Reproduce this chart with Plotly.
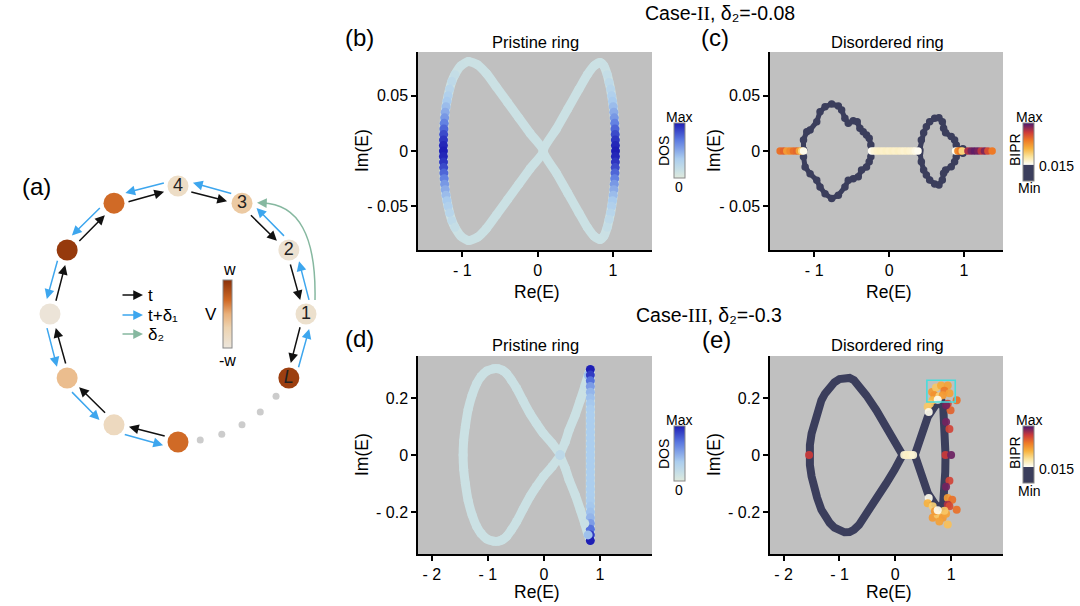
import numpy as np
import plotly.graph_objects as go
from plotly.colors import sample_colorscale

W, H = 1080, 606
FONT = "Arial, 'Liberation Sans', Helvetica, sans-serif"
GRAY = "#c0c0c0"
NAVY = "#3b3e5c"

# ---------------- data ----------------
# (b) Pristine ring, Case-II : (Re E, Im E, DOS)
B_LEFT_LOBE = [
    (0.075, 0.000, 0.12), (-0.10, 0.016, 0.12), (-0.25, 0.030, 0.12), (-0.40, 0.044, 0.12),
    (-0.55, 0.058, 0.12), (-0.68, 0.070, 0.12), (-0.80, 0.078, 0.12), (-0.92, 0.081, 0.12),
    (-1.02, 0.077, 0.13), (-1.10, 0.069, 0.17), (-1.14, 0.063, 0.21), (-1.17, 0.056, 0.26),
    (-1.19, 0.050, 0.31), (-1.205, 0.045, 0.36), (-1.218, 0.040, 0.42), (-1.228, 0.035, 0.49),
    (-1.236, 0.030, 0.57), (-1.242, 0.025, 0.66), (-1.246, 0.020, 0.76), (-1.249, 0.015, 0.85),
    (-1.251, 0.010, 0.92), (-1.252, 0.005, 0.97), (-1.252, 0.000, 1.00), (-1.252, -0.005, 0.97),
    (-1.251, -0.010, 0.92), (-1.249, -0.015, 0.85), (-1.246, -0.020, 0.76), (-1.242, -0.025, 0.66),
    (-1.236, -0.030, 0.57), (-1.228, -0.035, 0.49), (-1.218, -0.040, 0.42), (-1.205, -0.045, 0.36),
    (-1.19, -0.050, 0.31), (-1.17, -0.056, 0.26), (-1.14, -0.063, 0.21), (-1.10, -0.069, 0.17),
    (-1.02, -0.077, 0.13), (-0.92, -0.081, 0.12), (-0.80, -0.078, 0.12), (-0.68, -0.070, 0.12),
    (-0.55, -0.058, 0.12), (-0.40, -0.044, 0.12), (-0.25, -0.030, 0.12), (-0.10, -0.016, 0.12),
    (0.075, 0.000, 0.12),
]
B_RIGHT_LOBE = [
    (0.075, 0.000, 0.12),
    (0.25, 0.020, 0.12), (0.40, 0.038, 0.12), (0.55, 0.056, 0.12), (0.66, 0.069, 0.12),
    (0.75, 0.077, 0.12), (0.83, 0.080, 0.12), (0.88, 0.077, 0.13), (0.925, 0.069, 0.17),
    (0.95, 0.062, 0.21), (0.97, 0.056, 0.26), (0.984, 0.050, 0.31), (0.995, 0.045, 0.36),
    (1.005, 0.040, 0.42), (1.013, 0.035, 0.49), (1.019, 0.030, 0.57), (1.024, 0.025, 0.66),
    (1.028, 0.020, 0.76), (1.031, 0.015, 0.85), (1.033, 0.010, 0.92), (1.034, 0.005, 0.97),
    (1.035, 0.000, 1.00), (1.034, -0.005, 0.97), (1.033, -0.010, 0.92), (1.031, -0.015, 0.85),
    (1.028, -0.020, 0.76), (1.024, -0.025, 0.66), (1.019, -0.030, 0.57), (1.013, -0.035, 0.49),
    (1.005, -0.040, 0.42), (0.995, -0.045, 0.36), (0.984, -0.050, 0.31), (0.97, -0.056, 0.26),
    (0.95, -0.062, 0.21), (0.925, -0.069, 0.17), (0.88, -0.077, 0.13), (0.83, -0.080, 0.12),
    (0.75, -0.077, 0.12), (0.66, -0.069, 0.12), (0.55, -0.056, 0.12), (0.40, -0.038, 0.12),
    (0.25, -0.020, 0.12), (0.075, 0.000, 0.12),
]

# (c) Disordered ring, Case-II
C_LEFT_BLOB = [
    (-1.143, 0.001), (-1.143, 0.0099), (-1.099, 0.0175), (-1.055, 0.019), (-0.966, 0.0265),
    (-0.922, 0.0355), (-0.855, 0.040), (-0.767, 0.0425), (-0.678, 0.0407), (-0.634, 0.0371),
    (-0.590, 0.0295), (-0.545, 0.025), (-0.479, 0.0274), (-0.426, 0.0265), (-0.390, 0.0205),
    (-0.346, 0.0175), (-0.302, 0.0145), (-0.266, 0.0115), (-0.244, 0.0055), (-0.244, -0.0051),
    (-0.266, -0.0097), (-0.302, -0.0145), (-0.368, -0.0172), (-0.412, -0.0232), (-0.479, -0.025),
    (-0.545, -0.0265), (-0.590, -0.0325), (-0.678, -0.040), (-0.767, -0.043), (-0.855, -0.0386),
    (-0.922, -0.0325), (-0.966, -0.0265), (-1.055, -0.0205), (-1.121, -0.0145), (-1.143, -0.0051),
]
C_RIGHT_BLOB = [
    (0.408, 0.001), (0.430, 0.0099), (0.461, 0.0166), (0.497, 0.022), (0.541, 0.0265),
    (0.608, 0.0295), (0.665, 0.0301), (0.710, 0.0265), (0.727, 0.0205), (0.754, 0.0166),
    (0.829, 0.0130), (0.874, 0.0099), (0.896, 0.0055), (0.905, 0.0015), (0.985, 0.002),
    (0.985, -0.002), (0.905, -0.0015), (0.896, -0.0051), (0.874, -0.0097), (0.829, -0.0142),
    (0.754, -0.0172), (0.727, -0.0202), (0.710, -0.0262), (0.665, -0.0307), (0.608, -0.0298),
    (0.541, -0.0262), (0.497, -0.0217), (0.461, -0.0172), (0.430, -0.0097), (0.408, -0.0015),
]
# real-axis states: (Re E, BIPR level)
C_AXIS_STATES = [
    (-1.455, 0.72), (-1.41, 0.75), (-1.366, 0.62), (-1.322, 0.66), (-1.277, 0.72), (-1.233, 0.74),
    (-1.198, 0.60), (-1.167, 0.46), (-1.143, 0.30),
    (-0.234, 0.29), (-0.20, 0.33), (-0.16, 0.35), (-0.12, 0.36), (-0.08, 0.35), (-0.04, 0.36),
    (0.00, 0.35), (0.04, 0.36), (0.08, 0.35), (0.12, 0.36), (0.16, 0.35), (0.20, 0.34),
    (0.24, 0.35), (0.28, 0.34), (0.32, 0.33), (0.35, 0.31), (0.386, 0.29),
    (0.887, 0.30), (0.918, 0.65), (0.949, 0.70), (0.976, 0.47), (1.052, 0.88), (1.096, 0.95),
    (1.140, 0.97), (1.185, 0.95), (1.229, 0.86), (1.273, 0.93), (1.318, 0.80), (1.375, 0.70),
]

# (d) Pristine ring, Case-III : (Re E, Im E, DOS)
D_LEFT_LOOP = [
    (0.29, 0.000, 0.22), (0.15, 0.040, 0.12), (-0.01, 0.076, 0.12), (-0.13, 0.110, 0.12),
    (-0.245, 0.145, 0.12), (-0.37, 0.190, 0.12), (-0.484, 0.233, 0.12), (-0.58, 0.263, 0.12),
    (-0.663, 0.285, 0.12), (-0.74, 0.297, 0.12), (-0.81, 0.302, 0.12), (-0.90, 0.302, 0.12),
    (-1.02, 0.294, 0.12), (-1.12, 0.275, 0.12), (-1.20, 0.250, 0.12), (-1.28, 0.210, 0.12),
    (-1.35, 0.160, 0.12), (-1.40, 0.100, 0.12), (-1.43, 0.050, 0.12), (-1.44, 0.000, 0.12),
    (-1.43, -0.050, 0.12), (-1.40, -0.100, 0.12), (-1.35, -0.160, 0.12), (-1.28, -0.210, 0.12),
    (-1.20, -0.250, 0.12), (-1.12, -0.275, 0.12), (-1.02, -0.294, 0.12), (-0.90, -0.302, 0.12),
    (-0.81, -0.302, 0.12), (-0.74, -0.297, 0.12), (-0.663, -0.285, 0.12), (-0.58, -0.263, 0.12),
    (-0.484, -0.233, 0.12), (-0.37, -0.190, 0.12), (-0.245, -0.145, 0.12), (-0.13, -0.110, 0.12),
    (-0.01, -0.076, 0.12), (0.15, -0.040, 0.12), (0.29, 0.000, 0.22),
]
D_RIGHT_LOOP = [
    (0.29, 0.000, 0.22),
    (0.38, 0.045, 0.12), (0.45, 0.087, 0.12), (0.56, 0.140, 0.12), (0.65, 0.192, 0.12),
    (0.73, 0.240, 0.14), (0.79, 0.280, 0.40),
    (0.83, 0.30, 1.00), (0.83, 0.28, 0.90), (0.83, 0.26, 0.72), (0.83, 0.24, 0.55),
    (0.83, 0.22, 0.45), (0.83, 0.20, 0.40), (0.83, 0.18, 0.37), (0.83, 0.16, 0.35),
    (0.83, 0.14, 0.34), (0.83, 0.12, 0.34), (0.83, 0.10, 0.34), (0.83, 0.08, 0.34),
    (0.83, 0.06, 0.34), (0.83, 0.04, 0.34), (0.83, 0.02, 0.34), (0.83, 0.00, 0.34),
    (0.83, -0.02, 0.34), (0.83, -0.04, 0.34), (0.83, -0.06, 0.34), (0.83, -0.08, 0.34),
    (0.83, -0.10, 0.34), (0.83, -0.12, 0.34), (0.83, -0.14, 0.34), (0.83, -0.16, 0.35),
    (0.83, -0.18, 0.37), (0.83, -0.20, 0.40), (0.83, -0.22, 0.45), (0.83, -0.24, 0.55),
    (0.83, -0.26, 0.72), (0.83, -0.28, 0.90), (0.83, -0.30, 1.00),
    (0.79, -0.280, 0.40), (0.73, -0.240, 0.14), (0.65, -0.192, 0.12), (0.56, -0.140, 0.12),
    (0.45, -0.087, 0.12), (0.38, -0.045, 0.12), (0.29, 0.000, 0.22),
]

# (e) Disordered ring, Case-III
E_LEFT_LOOP = [
    (0.13, 0.000), (-0.013, 0.052), (-0.161, 0.099), (-0.34, 0.157), (-0.519, 0.209),
    (-0.65, 0.245), (-0.74, 0.262), (-0.82, 0.270), (-0.91, 0.271), (-1.00, 0.266),
    (-1.09, 0.255), (-1.175, 0.238), (-1.26, 0.215), (-1.324, 0.192), (-1.40, 0.150),
    (-1.46, 0.110), (-1.50, 0.075), (-1.53, 0.035), (-1.545, 0.000),
    (-1.53, -0.035), (-1.50, -0.075), (-1.46, -0.110), (-1.40, -0.150), (-1.324, -0.192),
    (-1.26, -0.215), (-1.175, -0.238), (-1.09, -0.255), (-1.00, -0.266), (-0.91, -0.271),
    (-0.82, -0.270), (-0.74, -0.262), (-0.65, -0.245), (-0.519, -0.209), (-0.34, -0.157),
    (-0.161, -0.099), (-0.013, -0.052), (0.13, 0.000),
]
E_RIGHT_LOOP = [
    (0.35, 0.000), (0.465, 0.064), (0.583, 0.134), (0.703, 0.170), (0.82, 0.195),
    (0.86, 0.165), (0.88, 0.120), (0.895, 0.060), (0.90, 0.000), (0.895, -0.060),
    (0.88, -0.120), (0.86, -0.165), (0.82, -0.195), (0.703, -0.170), (0.583, -0.134),
    (0.465, -0.064), (0.35, 0.000),
]
# localized / scattered states: (Re E, Im E, BIPR level)
E_STATES = [
    (0.66, 0.221, 0.62), (0.73, 0.237, 0.50), (0.82, 0.244, 0.58), (0.94, 0.244, 0.60),
    (0.88, 0.225, 0.70), (0.97, 0.216, 0.60), (0.70, 0.209, 0.64), (0.79, 0.206, 0.48),
    (0.85, 0.209, 0.62), (0.67, 0.192, 0.55), (0.62, 0.180, 0.50), (0.58, 0.169, 0.50),
    (0.60, 0.151, 0.30), (0.76, 0.194, 0.30), (0.94, 0.180, 0.82), (1.10, 0.192, 0.72),
    (0.99, 0.157, 0.75), (0.91, 0.174, 0.95), (0.91, 0.116, 0.95), (0.97, 0.091, 0.82),
    (0.90, 0.000, 0.84), (1.00, 0.000, 0.96), (0.97, -0.090, 0.82), (0.91, -0.111, 0.95),
    (0.60, -0.151, 0.30), (0.58, -0.169, 0.56), (0.67, -0.180, 0.48), (0.94, -0.151, 0.62),
    (1.02, -0.157, 0.72), (0.94, -0.174, 0.88), (0.97, -0.180, 0.80), (1.10, -0.192, 0.72),
    (0.67, -0.220, 0.62), (0.76, -0.209, 0.50), (0.85, -0.220, 0.62), (0.91, -0.206, 0.60),
    (0.79, -0.233, 0.60), (0.94, -0.244, 0.52), (0.71, -0.197, 0.62), (0.88, -0.195, 0.50),
    (0.76, -0.194, 0.30),
    (0.16, 0.0, 0.33), (0.20, 0.0, 0.35), (0.24, 0.0, 0.36), (0.28, 0.0, 0.35), (0.32, 0.0, 0.33),
    (-1.545, 0.0, 0.84),
]
E_BOX = (0.566, 1.074, 0.186, 0.262)

# (a) ring of sites: angle (deg), label, on-site V (in units of w)
SITE_ANGLE = [90, 60, 30, 0, -30, -90, -120, -150, 180, 150, 120]
SITE_V = [-0.7, -0.3, -0.85, -0.8, 0.85, 0.4, -0.6, -0.15, -0.95, 0.9, 0.4]
LABELED_SITES = [0, 1, 2, 3, 4]
SITE_LABEL = ["4", "3", "2", "1", "<i>L</i>"]
GAP_DOT_ANGLE = [-40, -50, -60, -70, -80]
HOP_START_ANGLE = [120, 90, 60, 30, 0, -90, -120, -150, 180, 150]

# tick labels
TICK_RE_2 = ([-1, 0, 1], ["- 1", "0", "1"])
TICK_IM_2 = ([-0.05, 0, 0.05], ["- 0.05", "0", "0.05"])
TICK_RE_3 = ([-2, -1, 0, 1], ["- 2", "- 1", "0", "1"])
TICK_IM_3 = ([-0.2, 0, 0.2], ["- 0.2", "0", "0.2"])

# ---------------- colour scales ----------------
DOS_CS = [[0, "#dfe9dc"], [0.12, "#cbe1e4"], [0.35, "#abcdee"], [0.7, "#5a78e0"], [1, "#1e1eb4"]]
BIPR_CS = [[0, NAVY], [0.28, NAVY], [0.285, "#fffef5"], [0.42, "#fae49c"], [0.56, "#f7b23e"],
           [0.70, "#ee7a26"], [0.84, "#cc3a3a"], [1, "#4a1870"]]
V_CS = [[0, "#ece6dc"], [0.3, "#edd3b0"], [0.5, "#e9b07a"], [0.7, "#d06a26"], [1, "#8a3008"]]
LIGHT_LINE = sample_colorscale(DOS_CS, [0.12])[0]


def unzip(rows):
    return [list(c) for c in zip(*rows)]


fig = go.Figure()

# ---- (b)
for lobe in (B_LEFT_LOBE, B_RIGHT_LOBE):
    re, im, dos = unzip(lobe)
    fig.add_trace(go.Scatter(x=re, y=im, mode="lines", line=dict(color=LIGHT_LINE, width=9, shape="spline", smoothing=0.6),
                             xaxis="x", yaxis="y", hoverinfo="skip", showlegend=False))
for lobe in (B_LEFT_LOBE, B_RIGHT_LOBE):
    re, im, dos = unzip(lobe)
    fig.add_trace(go.Scatter(x=re, y=im, mode="markers",
                             marker=dict(size=9, color=dos, coloraxis="coloraxis", line=dict(width=0)),
                             xaxis="x", yaxis="y", showlegend=False))

# ---- (c)
for blob in (C_LEFT_BLOB, C_RIGHT_BLOB):
    re, im = unzip(blob + blob[:1])
    fig.add_trace(go.Scatter(x=re, y=im, mode="lines+markers", line=dict(color=NAVY, width=5),
                             marker=dict(size=7.5, color=NAVY), xaxis="x2", yaxis="y2", showlegend=False))
cre, clev = unzip(C_AXIS_STATES)
fig.add_trace(go.Scatter(x=cre, y=[0] * len(cre), mode="markers",
                         marker=dict(size=7.5, color=clev, coloraxis="coloraxis2", line=dict(width=0)),
                         xaxis="x2", yaxis="y2", showlegend=False))

# ---- (d)
for lobe in (D_LEFT_LOOP, D_RIGHT_LOOP):
    re, im, dos = unzip(lobe)
    fig.add_trace(go.Scatter(x=re, y=im, mode="lines", line=dict(color=LIGHT_LINE, width=9, shape="spline", smoothing=0.4),
                             xaxis="x3", yaxis="y3", hoverinfo="skip", showlegend=False))
for lobe in (D_LEFT_LOOP, D_RIGHT_LOOP):
    re, im, dos = unzip(lobe)
    fig.add_trace(go.Scatter(x=re, y=im, mode="markers",
                             marker=dict(size=9, color=dos, coloraxis="coloraxis3", line=dict(width=0)),
                             xaxis="x3", yaxis="y3", showlegend=False))

# ---- (e)
for loop in (E_LEFT_LOOP, E_RIGHT_LOOP):
    re, im = unzip(loop)
    fig.add_trace(go.Scatter(x=re, y=im, mode="lines", line=dict(color=NAVY, width=8),
                             xaxis="x4", yaxis="y4", showlegend=False))
ere, eim, elev = unzip(E_STATES)
fig.add_trace(go.Scatter(x=ere, y=eim, mode="markers",
                         marker=dict(size=8, color=elev, coloraxis="coloraxis4", line=dict(width=0), opacity=0.92),
                         xaxis="x4", yaxis="y4", showlegend=False))

# ---- (a) ring diagram (pixel-like units, y downward)
CX, CY, R = 178, 314, 128
ang = np.radians(SITE_ANGLE)
sx = CX + R * np.cos(ang)
sy = CY - R * np.sin(ang)
gang = np.radians(GAP_DOT_ANGLE)
fig.add_trace(go.Scatter(x=CX + R * np.cos(gang), y=CY - R * np.sin(gang), mode="markers",
                         marker=dict(size=7, color="#cccccc"), xaxis="x5", yaxis="y5", showlegend=False))
fig.add_trace(go.Scatter(x=sx, y=sy, mode="markers",
                         marker=dict(size=21, color=SITE_V, coloraxis="coloraxis5", line=dict(width=0)),
                         xaxis="x5", yaxis="y5", showlegend=False))
fig.add_trace(go.Scatter(x=[sx[i] for i in LABELED_SITES], y=[sy[i] + 0.5 for i in LABELED_SITES],
                         mode="text", text=SITE_LABEL, textposition="middle center",
                         textfont=dict(family=FONT, size=18, color="#222222"),
                         xaxis="x5", yaxis="y5", showlegend=False, hoverinfo="skip"))

annotations = []
shapes = []


def arrow(tx, ty, hx, hy, color, width=1.5, size=1.3):
    annotations.append(dict(x=hx, y=hy, ax=tx, ay=ty, xref="x5", yref="y5", axref="x5", ayref="y5",
                            showarrow=True, arrowhead=2, arrowsize=size, arrowwidth=width,
                            arrowcolor=color, text="", standoff=0, startstandoff=0))


def pol(a_deg, r):
    a = np.radians(a_deg)
    return CX + r * np.cos(a), CY - r * np.sin(a)


BLACK = "#111111"
BLUE = "#3da6ee"
GREEN = "#86b8a0"
for a in HOP_START_ANGLE:
    t0 = pol(a - 5.5, R - 5)
    t1 = pol(a - 30 + 6.5, R - 5)
    arrow(t0[0], t0[1], t1[0], t1[1], BLACK)
    b0 = pol(a - 30 + 5.5, R + 4)
    b1 = pol(a - 6.5, R + 4)
    arrow(b0[0], b0[1], b1[0], b1[1], BLUE)

# delta_2 long-range hop 1 -> 3
shapes.append(dict(type="path", path="M 315,300 Q 317,204 262,203", xref="x5", yref="y5",
                   line=dict(color=GREEN, width=1.5)))
arrow(268, 203.3, 257, 202.8, GREEN)

# legend of hoppings
for yy, col, lab in [(295, BLACK, "t"), (315, BLUE, "t+δ₁"), (334, GREEN, "δ₂")]:
    arrow(121, yy, 143, yy, col)
    annotations.append(dict(x=146, y=yy, xref="x5", yref="y5", text=lab, showarrow=False, xanchor="left",
                            yanchor="middle", font=dict(family=FONT, size=17, color="black")))


def txt(x, y, s, size=16, angle=0, xanchor="center"):
    annotations.append(dict(x=x / W, y=1 - y / H, xref="paper", yref="paper", text=s, showarrow=False,
                            textangle=angle, xanchor=xanchor, yanchor="middle",
                            font=dict(family=FONT, size=size, color="black")))


# V colour bar labels
txt(229, 270, "w", 16)
txt(227, 360, "-w", 16)
txt(211, 314, "V", 17)

# headings
txt(720, 13, "Case-<span style='font-family:Liberation Serif'>II</span>, δ₂=-0.08", 19.5)
txt(709, 315, "Case-<span style='font-family:Liberation Serif'>III</span>, δ₂=-0.3", 19.5)
for (x, y, s) in [(36, 186, "(a)"), (359, 37, "(b)"), (715, 38, "(c)"), (359, 338, "(d)"), (716, 339, "(e)")]:
    txt(x, y, s, 24)
for (x, y, s) in [(535, 42, "Pristine ring"), (887, 42, "Disordered ring"),
                  (535, 345, "Pristine ring"), (887, 345, "Disordered ring")]:
    txt(x, y, s, 16.5)
# axis titles
for (xl, yl, xr, yr) in [(362, 151, 537, 292), (714, 151, 889, 292), (362, 455, 537, 592), (714, 455, 889, 592)]:
    txt(xl, yl, "Im(E)", 17.5, angle=-90)
    txt(xr, yr, "Re(E)", 17.5)
# colour-bar labels
for y0 in (0, 303):
    txt(679, 117 + y0, "Max", 14)
    txt(664, 151 + y0, "DOS", 14, angle=-90)
    txt(679, 187 + y0, "0", 14)
    txt(1029, 117 + y0, "Max", 14)
    txt(1015, 150 + y0, "BIPR", 14, angle=-90)
    txt(1029, 188 + y0, "Min", 14)
    txt(1037, 166 + y0, "0.015", 14, xanchor="left")

# grey backgrounds
for ax in ("x", "x2", "x3", "x4"):
    yax = ax.replace("x", "y")
    shapes.append(dict(type="rect", xref=f"{ax} domain", yref=f"{yax} domain", x0=0, x1=1, y0=0, y1=1,
                       fillcolor=GRAY, line=dict(width=0), layer="below"))
# highlighted box in (e)
bx0, bx1, by0, by1 = E_BOX
shapes.append(dict(type="rect", xref="x4", yref="y4", x0=bx0, x1=bx1, y0=by0, y1=by1,
                   line=dict(color="#48dcdc", width=1.6)))


def dom_x(a, b):
    return [a / W, b / W]


def dom_y(top, bot):
    return [1 - bot / H, 1 - top / H]


def axstyle(tv, tt, rng, dom):
    return dict(domain=dom, range=rng, tickvals=tv, ticktext=tt, showline=True, linecolor="black",
                linewidth=1.5, ticks="outside", ticklen=5, tickwidth=1.5, tickcolor="black",
                showgrid=False, zeroline=False, mirror=False,
                tickfont=dict(family=FONT, size=16, color="black"))


def cbar(x, ytop, ybot, thick=11):
    return dict(x=x / W, xanchor="left", y=1 - (ytop + ybot) / 2 / H, yanchor="middle",
                len=(ybot - ytop) / H, lenmode="fraction", thickness=thick, xpad=0, ypad=0,
                outlinewidth=1, outlinecolor="#888888", showticklabels=False, ticks="")


fig.update_layout(
    width=W, height=H, margin=dict(l=0, r=0, t=0, b=0),
    paper_bgcolor="white", plot_bgcolor="white",
    font=dict(family=FONT, color="black"),
    xaxis=dict(**axstyle(*TICK_RE_2, [-1.59, 1.52], dom_x(418, 652)), anchor="y"),
    yaxis=dict(**axstyle(*TICK_IM_2, [-0.0895, 0.0895], dom_y(52, 250)), anchor="x"),
    xaxis2=dict(**axstyle(*TICK_RE_2, [-1.59, 1.52], dom_x(770, 1003)), anchor="y2"),
    yaxis2=dict(**axstyle(*TICK_IM_2, [-0.0895, 0.0895], dom_y(52, 250)), anchor="x2"),
    xaxis3=dict(**axstyle(*TICK_RE_3, [-2.245, 1.93], dom_x(418, 652)), anchor="y3"),
    yaxis3=dict(**axstyle(*TICK_IM_3, [-0.347, 0.347], dom_y(356, 554)), anchor="x3"),
    xaxis4=dict(**axstyle(*TICK_RE_3, [-2.245, 1.93], dom_x(770, 1003)), anchor="y4"),
    yaxis4=dict(**axstyle(*TICK_IM_3, [-0.347, 0.347], dom_y(356, 554)), anchor="x4"),
    xaxis5=dict(domain=dom_x(0, 340), range=[0, 340], visible=False, anchor="y5"),
    yaxis5=dict(domain=dom_y(160, 480), range=[480, 160], visible=False, anchor="x5"),
    coloraxis=dict(colorscale=DOS_CS, cmin=0, cmax=1, colorbar=cbar(673.5, 123, 178)),
    coloraxis2=dict(colorscale=BIPR_CS, cmin=0, cmax=1, colorbar=cbar(1023, 123, 181)),
    coloraxis3=dict(colorscale=DOS_CS, cmin=0, cmax=1, colorbar=cbar(673.5, 426, 481)),
    coloraxis4=dict(colorscale=BIPR_CS, cmin=0, cmax=1, colorbar=cbar(1023, 426, 483)),
    coloraxis5=dict(colorscale=V_CS, cmin=-1, cmax=1, colorbar=cbar(223.3, 280, 348, thick=8.5)),
    annotations=annotations, shapes=shapes,
)

fig.write_html("out.html", config={"displayModeBar": False},
               post_script="document.body.style.margin='0px';document.body.style.overflow='hidden';")
